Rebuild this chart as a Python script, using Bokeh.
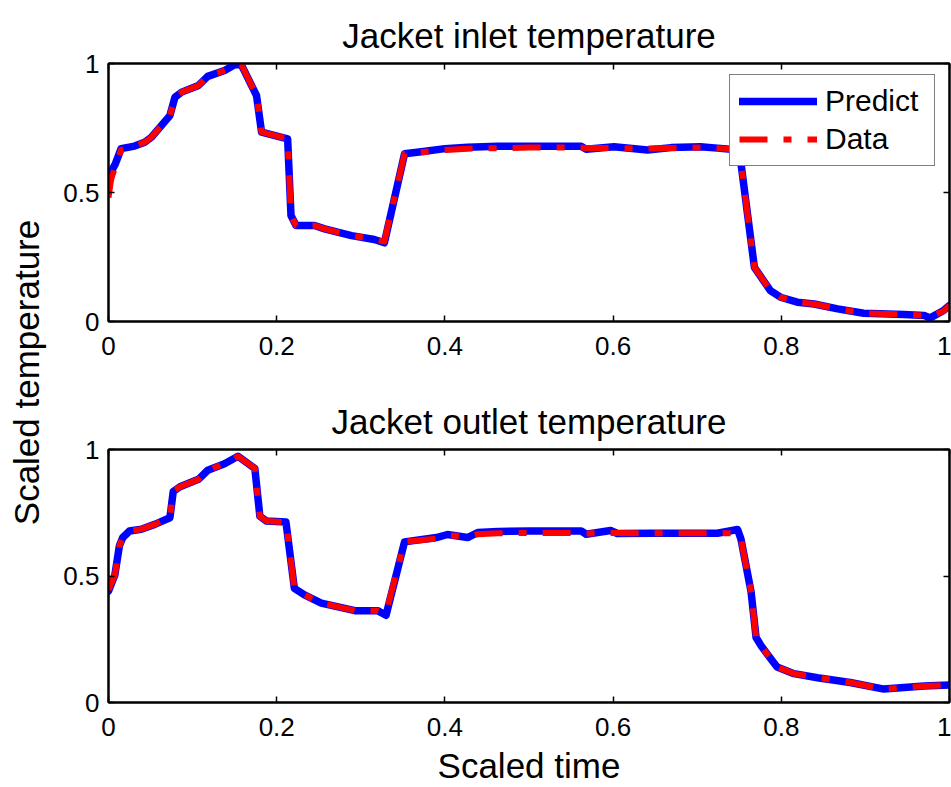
from bokeh.plotting import figure
from bokeh.layouts import row, column
from bokeh.models import (Legend, LegendItem, LinearAxis, FixedTicker,
                          CustomJSTickFormatter, Range1d)
from bokeh.embed import file_html
from bokeh.resources import INLINE

# ---------------- data ----------------
x_ticks = [0, 0.2, 0.4, 0.6, 0.8, 1.0]
y_ticks = [0, 0.5, 1.0]

titles = ["Jacket inlet temperature", "Jacket outlet temperature"]
x_label = "Scaled time"
y_label = "Scaled temperature"
legend_labels = ["Predict", "Data"]

# Jacket inlet temperature
t_in = [0.000, 0.003, 0.008, 0.015, 0.031, 0.043, 0.051, 0.073, 0.079, 0.087,
        0.107, 0.118, 0.138, 0.150, 0.158, 0.176, 0.182, 0.213, 0.217, 0.223,
        0.245, 0.257, 0.289, 0.316, 0.328, 0.352, 0.372, 0.400, 0.427, 0.463,
        0.500, 0.562, 0.568, 0.601, 0.641, 0.669, 0.704, 0.724, 0.750, 0.768,
        0.787, 0.799, 0.819, 0.839, 0.867, 0.898, 0.946, 0.970, 0.977, 0.993,
        1.000]
data_in = [0.480, 0.550, 0.600, 0.665, 0.680, 0.695, 0.714, 0.798, 0.869, 0.889,
           0.915, 0.950, 0.973, 0.990, 0.995, 0.876, 0.734, 0.708, 0.411, 0.372,
           0.372, 0.359, 0.333, 0.318, 0.310, 0.650, 0.656, 0.665, 0.670, 0.672,
           0.674, 0.674, 0.672, 0.672, 0.670, 0.672, 0.674, 0.672, 0.665, 0.210,
           0.120, 0.094, 0.075, 0.068, 0.049, 0.032, 0.027, 0.023, 0.020, 0.040,
           0.062]
pred_in = [0.520, 0.580, 0.610, 0.670, 0.680, 0.695, 0.714, 0.798, 0.869, 0.889,
           0.915, 0.950, 0.973, 0.995, 0.995, 0.876, 0.734, 0.708, 0.411, 0.372,
           0.372, 0.359, 0.333, 0.318, 0.305, 0.650, 0.658, 0.670, 0.675, 0.679,
           0.679, 0.679, 0.668, 0.677, 0.665, 0.674, 0.677, 0.672, 0.665, 0.210,
           0.120, 0.094, 0.075, 0.068, 0.049, 0.032, 0.027, 0.023, 0.014, 0.043,
           0.062]

# Jacket outlet temperature
t_out = [0.000, 0.0075, 0.013, 0.017, 0.025, 0.039, 0.055, 0.073, 0.077, 0.085,
         0.107, 0.118, 0.138, 0.154, 0.174, 0.180, 0.188, 0.211, 0.221, 0.233,
         0.253, 0.293, 0.320, 0.330, 0.352, 0.390, 0.403, 0.427, 0.439, 0.463,
         0.500, 0.562, 0.568, 0.597, 0.605, 0.645, 0.724, 0.748, 0.752, 0.764,
         0.770, 0.776, 0.789, 0.795, 0.815, 0.843, 0.882, 0.922, 0.946, 0.970,
         1.000]
data_out = [0.445, 0.503, 0.620, 0.652, 0.678, 0.685, 0.704, 0.730, 0.834, 0.853,
            0.882, 0.918, 0.944, 0.973, 0.925, 0.736, 0.717, 0.713, 0.451, 0.425,
            0.393, 0.363, 0.363, 0.355, 0.635, 0.648, 0.661, 0.656, 0.665, 0.669,
            0.670, 0.670, 0.668, 0.670, 0.670, 0.669, 0.669, 0.669, 0.646, 0.439,
            0.257, 0.224, 0.166, 0.140, 0.114, 0.098, 0.079, 0.053, 0.059, 0.065,
            0.069]
pred_out = [0.440, 0.503, 0.620, 0.652, 0.678, 0.685, 0.704, 0.730, 0.834, 0.853,
            0.882, 0.918, 0.944, 0.973, 0.925, 0.736, 0.717, 0.713, 0.451, 0.425,
            0.393, 0.363, 0.363, 0.345, 0.635, 0.652, 0.664, 0.652, 0.672, 0.676,
            0.678, 0.678, 0.665, 0.680, 0.668, 0.669, 0.669, 0.684, 0.646, 0.439,
            0.257, 0.224, 0.166, 0.140, 0.114, 0.098, 0.079, 0.053, 0.059, 0.065,
            0.069]

FONT = "Liberation Sans"
BLUE = "#0000ff"
RED = "#ff0000"

fmt = CustomJSTickFormatter(code="return String(Math.round(tick*10)/10)")
blank = CustomJSTickFormatter(code="return ''")


def style_axis(ax, ticks, labels=True, standoff=9):
    ax.ticker = FixedTicker(ticks=ticks)
    ax.formatter = fmt if labels else blank
    ax.major_tick_in = 6
    ax.major_tick_out = 0
    ax.minor_tick_line_color = None
    ax.major_tick_line_color = "black"
    ax.major_tick_line_width = 1.5
    ax.axis_line_color = "black"
    ax.axis_line_width = 2
    ax.major_label_text_font = FONT
    ax.major_label_text_font_size = "26px"
    ax.major_label_text_color = "black"
    ax.major_label_standoff = standoff if labels else 0


def panel(title, t, pred, data, height, top, bottom, with_legend, xlabel=None):
    p = figure(width=891, height=height, output_backend="svg",
               toolbar_location=None, x_range=Range1d(0, 1),
               y_range=Range1d(0, 1), min_border_left=47,
               min_border_right=2, min_border_top=top,
               min_border_bottom=bottom)
    p.xgrid.visible = False
    p.ygrid.visible = False
    p.outline_line_color = "black"
    p.outline_line_width = 2
    p.title.text = title
    p.title.align = "center"
    p.title.text_font = FONT
    p.title.text_font_size = "35px"
    p.title.text_font_style = "normal"
    p.title.text_color = "black"
    p.title.standoff = 17

    bottom_ax = p.xaxis[0]
    left_ax = p.yaxis[0]
    style_axis(bottom_ax, x_ticks, standoff=15)
    style_axis(left_ax, y_ticks, standoff=9)
    if xlabel:
        bottom_ax.axis_label = xlabel
        bottom_ax.axis_label_text_font = FONT
        bottom_ax.axis_label_text_font_size = "35px"
        bottom_ax.axis_label_text_font_style = "normal"
        bottom_ax.axis_label_text_color = "black"
        bottom_ax.axis_label_standoff = 7
    top_ax = LinearAxis()
    style_axis(top_ax, x_ticks, labels=False)
    p.add_layout(top_ax, "above")
    right_ax = LinearAxis()
    style_axis(right_ax, y_ticks, labels=False)
    p.add_layout(right_ax, "right")

    rb = p.line(t, pred, line_color=BLUE, line_width=7.5, line_join="round",
                line_cap="round")
    rr = p.line(t, data, line_color=RED, line_width=6, line_dash="28 16 8 16",
                line_join="round")
    if with_legend:
        leg = Legend(items=[LegendItem(label=legend_labels[0], renderers=[rb]),
                            LegendItem(label=legend_labels[1], renderers=[rr])],
                     location=(621, 155))
        leg.label_text_font = FONT
        leg.label_text_font_size = "30px"
        leg.label_text_color = "black"
        leg.glyph_width = 78
        leg.glyph_height = 32
        leg.label_height = 32
        leg.label_width = 100
        leg.label_standoff = 8
        leg.padding = 9
        leg.spacing = 4
        leg.margin = 0
        leg.border_line_color = "black"
        leg.border_line_width = 1.5
        leg.background_fill_color = "white"
        leg.background_fill_alpha = 1
        p.add_layout(leg)
    return p


p1 = panel(titles[0], t_in, pred_in, data_in, 385, 63, 64, True)
p2 = panel(titles[1], t_out, pred_out, data_out, 402, 64, 81, False, x_label)

# y label shared by both panels: carried by the axis of a narrow side figure
lab = figure(width=60, height=787, output_backend="svg", toolbar_location=None,
             x_range=Range1d(0, 1), y_range=Range1d(0, 1),
             x_axis_type=None, min_border_left=55, min_border_right=0,
             min_border_top=0, min_border_bottom=43)
lab.outline_line_color = None
lab.xgrid.visible = False
lab.ygrid.visible = False
ya = lab.yaxis[0]
ya.formatter = blank
ya.major_tick_line_color = None
ya.minor_tick_line_color = None
ya.axis_line_color = None
ya.major_label_standoff = 0
ya.axis_label = y_label
ya.axis_label_text_font = FONT
ya.axis_label_text_font_size = "35px"
ya.axis_label_text_font_style = "normal"
ya.axis_label_text_color = "black"
ya.axis_label_standoff = 4

layout = row(lab, column(p1, p2, spacing=0), spacing=0)

open("out.html", "w").write(file_html(layout, INLINE))
